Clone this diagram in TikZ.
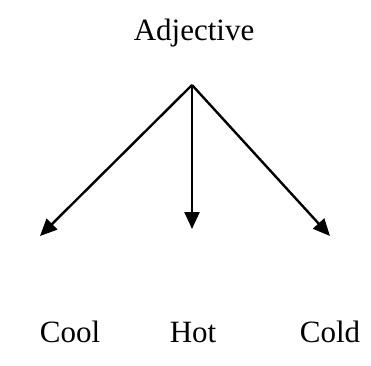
\documentclass[tikz,border=0pt]{standalone}
\usepackage{fontspec}
\setmainfont{Liberation Serif}
\usetikzlibrary{arrows.meta}
\tikzset{
  lbl/.style={anchor=base, inner sep=0pt, font=\fontsize{31}{36}\selectfont},
  arr/.style={line width=2.4pt, -{Triangle[length=17pt,width=15pt]}}
}
\begin{document}
\begin{tikzpicture}[x=1pt,y=-1pt]
\useasboundingbox (0,0) rectangle (371,365);
\node[lbl] (adj) at (194,40) {Adjective};
\coordinate (apex) at (192,85);
\coordinate (tl) at (40,236);
\coordinate (tm) at (192,229);
\coordinate (tr) at (330,236);
\draw[arr] (apex) -- (tl);
\draw[arr] (apex) -- (tm);
\draw[arr] (apex) -- (tr);
\node[lbl] (cool) at (70,342) {Cool};
\node[lbl] (hot) at (193,342) {Hot};
\node[lbl] (cold) at (330,342) {Cold};
\end{tikzpicture}
\end{document}
